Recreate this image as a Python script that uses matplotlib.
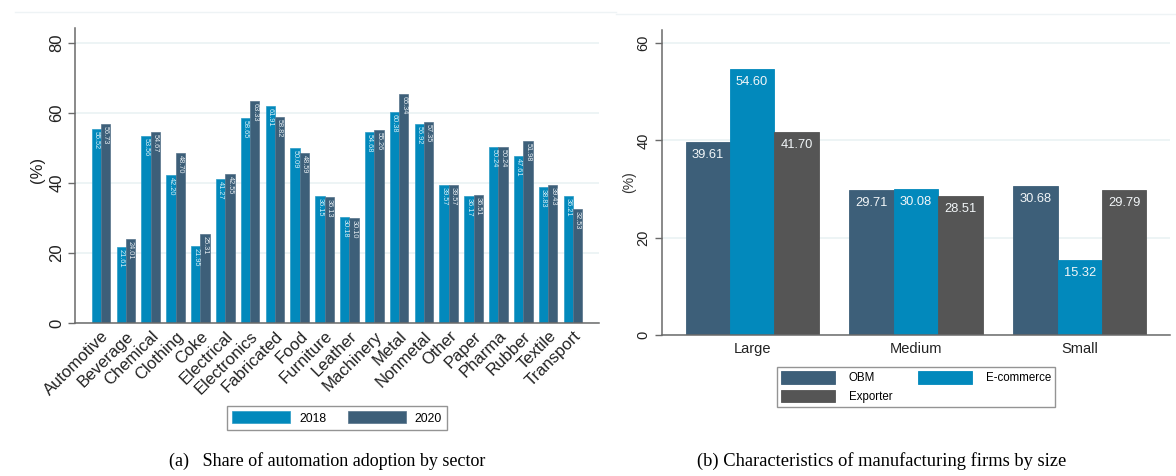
import numpy as np
import matplotlib.pyplot as plt
from matplotlib.lines import Line2D

plt.rcParams['font.family'] = ['Liberation Sans', 'DejaVu Sans']

# ---- Panel (a): automation adoption by sector ----
sectors = ["Automotive", "Beverage", "Chemical", "Clothing", "Coke", "Electrical",
           "Electronics", "Fabricated", "Food", "Furniture", "Leather", "Machinery",
           "Metal", "Nonmetal", "Other", "Paper", "Pharma", "Rubber", "Textile",
           "Transport"]
share_2018 = [55.52, 21.61, 53.56, 42.20, 21.95, 41.27, 58.65, 61.91, 50.09, 36.15,
              30.18, 54.68, 60.38, 56.92, 39.57, 36.17, 50.24, 47.61, 38.83, 36.21]
share_2020 = [56.73, 24.01, 54.67, 48.70, 25.31, 42.55, 63.33, 58.82, 48.59, 36.13,
              30.10, 55.26, 65.34, 57.35, 39.57, 36.51, 50.24, 51.98, 39.43, 32.53]
years = ["2018", "2020"]
ticks_a = [0, 20, 40, 60, 80]

# ---- Panel (b): firm characteristics by size ----
sizes = ["Large", "Medium", "Small"]
obm = [39.61, 29.71, 30.68]
ecommerce = [54.60, 30.08, 15.32]
exporter = [41.70, 28.51, 29.79]
ticks_b = [0, 20, 40, 60]

BLUE = '#0289BC'
SLATE = '#3D5F79'
GRAY = '#555555'
GRID = '#E8F1F3'
AXIS = '#6a6a6a'

W, H = 1176, 476
fig = plt.figure(figsize=(W / 100, H / 100), dpi=100)

def fx(px):
    return px / W

def fy(py):
    return 1 - py / H

# faint outer graph-region edges
fig.add_artist(Line2D([fx(15), fx(616)], [fy(12), fy(12)], color='#EEF3F5', lw=1))
fig.add_artist(Line2D([fx(616), fx(1176)], [fy(14), fy(14)], color='#EEF3F5', lw=1))

def style_axes(ax, fs, pad):
    for s in ['top', 'right']:
        ax.spines[s].set_visible(False)
    for s in ['left', 'bottom']:
        ax.spines[s].set_color(AXIS)
        ax.spines[s].set_linewidth(1.1)
    ax.tick_params(axis='y', direction='out', length=5, width=1, color=AXIS,
                   labelsize=fs, pad=pad, labelcolor='#222222')
    for lab in ax.get_yticklabels():
        lab.set_rotation(90)
        lab.set_va('center')
    ax.yaxis.grid(True, color=GRID, lw=1.1)
    ax.set_axisbelow(True)

# ---------------- panel (a) ----------------
axa = fig.add_axes([fx(75), fy(323), fx(599) - fx(75), fy(28) - fy(323)])
x = np.arange(len(sectors))
bw = 0.375
bars18 = axa.bar(x - bw / 2, share_2018, bw, color=BLUE, edgecolor='#2a9bc6', lw=0.5, label=years[0])
bars20 = axa.bar(x + bw / 2, share_2020, bw, color=SLATE, edgecolor='#56738a', lw=0.5, label=years[1])
axa.set_xlim(-1.05, len(sectors) - 1 + 1.05)
axa.set_ylim(0, 84.3)
axa.set_yticks(ticks_a)
axa.set_xticks(x)
axa.set_xticklabels(sectors, rotation=45, ha='right', rotation_mode='anchor', fontsize=12,
                    color='#222222')
axa.tick_params(axis='x', length=0, pad=4)
style_axes(axa, 12, 2.5)
axa.set_ylabel('(%)', fontsize=12, color='#222222', va='center')
axa.yaxis.set_label_coords((38 - 75) / 524, 0.52)

for bars, vals, col in [(bars18, share_2018, '#d8eef7'), (bars20, share_2020, '#e6edf2')]:
    for b, v in zip(bars, vals):
        axa.annotate(f'{v:.2f}', (b.get_x() + b.get_width() / 2, v), xytext=(0, -2),
                     textcoords='offset pixels', rotation=270, ha='center', va='top',
                     fontsize=5.3, color=col)

leg_a = fig.legend(handles=[bars18, bars20], labels=years, loc='center',
                   bbox_to_anchor=(fx(337), fy(418)), ncol=2, fontsize=8.7,
                   handlelength=4.8, handleheight=1.15, columnspacing=1.8,
                   handletextpad=0.7, frameon=True, fancybox=False,
                   borderpad=0.45, borderaxespad=0)
leg_a.get_frame().set_edgecolor('#7a7a7a')
leg_a.get_frame().set_linewidth(1.0)

# ---------------- panel (b) ----------------
axb = fig.add_axes([fx(662), fy(335), fx(1170) - fx(662), fy(30) - fy(335)])
xb = np.arange(len(sizes))
w = 0.271
series = [("OBM", obm, SLATE), ("E-commerce", ecommerce, BLUE), ("Exporter", exporter, GRAY)]
handles = []
for i, (name, vals, col) in enumerate(series):
    bs = axb.bar(xb + (i - 1) * w, vals, w, color=col, edgecolor=col, lw=0.6, label=name)
    handles.append(bs)
    for b, v in zip(bs, vals):
        axb.annotate(f'{v:.2f}', (b.get_x() + b.get_width() / 2, v), xytext=(0, -13),
                     textcoords='offset pixels', ha='center', va='center',
                     fontsize=9.3, color='#f2f6f8')
axb.set_xlim(-0.55, 2.55)
axb.set_ylim(0, 62.7)
axb.set_yticks(ticks_b)
axb.set_xticks(xb)
axb.set_xticklabels(sizes, fontsize=10.5, color='#222222')
axb.tick_params(axis='x', length=0, pad=5)
style_axes(axb, 10.5, 3.5)
axb.set_ylabel('(%)', fontsize=10, color='#333333', va='center')
axb.yaxis.set_label_coords((629 - 662) / 508, 0.5)

leg_b = fig.legend(handles=[handles[0], handles[2], handles[1]],
                   labels=["OBM", "Exporter", "E-commerce"], loc='center',
                   bbox_to_anchor=(fx(916), fy(387)), ncol=2, fontsize=8.3,
                   handlelength=4.7, handleheight=1.25, columnspacing=2.2,
                   handletextpad=1.2, labelspacing=0.45, frameon=True, fancybox=False,
                   borderpad=0.35, borderaxespad=0)
leg_b.get_frame().set_edgecolor('#7a7a7a')
leg_b.get_frame().set_linewidth(1.0)

# ---------------- captions ----------------
fig.text(fx(327), fy(461), '(a)   Share of automation adoption by sector', ha='center',
         va='center', fontsize=13, family=['Liberation Serif', 'DejaVu Serif'])
fig.text(fx(882), fy(461), '(b) Characteristics of manufacturing firms by size', ha='center',
         va='center', fontsize=13.3, family=['Liberation Serif', 'DejaVu Serif'])

fig.savefig('out.png', dpi=100)
